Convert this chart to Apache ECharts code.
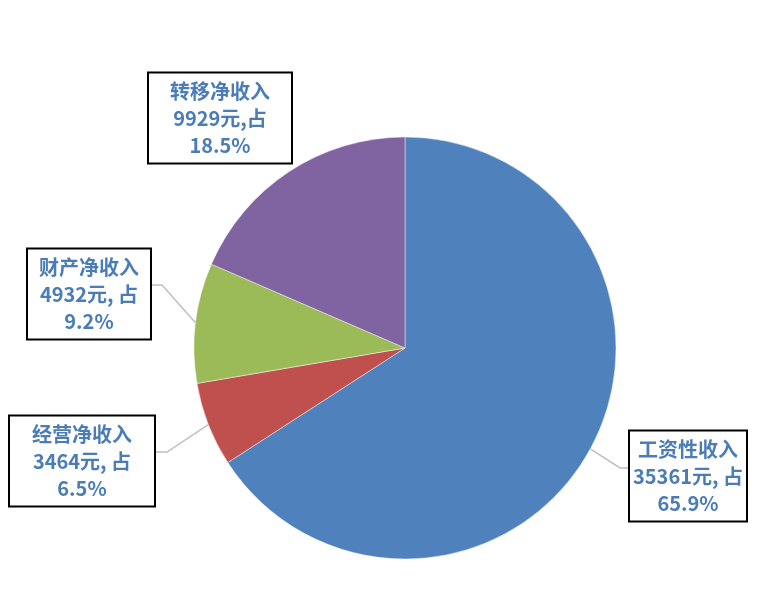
<!DOCTYPE html>
<html>
<head>
<meta charset="utf-8">
<script src="https://cdn.jsdelivr.net/npm/echarts@6/dist/echarts.min.js"></script>
<style>
  html, body { margin: 0; padding: 0; background: #fff; }
  #main { width: 768px; height: 614px; }
</style>
</head>
<body>
<div id="main"></div>
<script>
// 数据
var categories = ['工资性收入', '经营净收入', '财产净收入', '转移净收入'];
var incomeValues = [35361, 3464, 4932, 9929];
var unitTexts = ['元, 占', '元, 占', '元, 占', '元,占'];
var sliceColors = ['#4f81bd', '#c0504d', '#9bbb59', '#8064a2'];

// 标签框位置 (中心点、宽度、引导线拐点)
var labelBoxes = [
  { cx: 688, cy: 476, w: 116, line: [[620, 468], [628, 468]] },
  { cx: 82, cy: 461, w: 144, line: [[167, 452], [156, 452]] },
  { cx: 89, cy: 294, w: 122, line: [[162, 285], [152, 285]] },
  { cx: 220, cy: 118, w: 142, line: null }
];

var total = incomeValues.reduce(function (a, b) { return a + b; }, 0);

var myChart = echarts.init(document.getElementById('main'));

var pieData = categories.map(function (name, i) {
  return {
    name: name,
    value: incomeValues[i],
    itemStyle: { color: sliceColors[i] },
    label: { width: labelBoxes[i].w },
    labelLine: { show: labelBoxes[i].line !== null }
  };
});

option = {
  backgroundColor: '#fff',
  animation: false,
  series: [{
    type: 'pie',
    center: [405, 348],
    radius: 211,
    startAngle: 90,
    clockwise: true,
    avoidLabelOverlap: false,
    itemStyle: {
      borderColor: 'rgba(255,255,255,0.45)',
      borderWidth: 1
    },
    label: {
      show: true,
      position: 'outside',
      formatter: function (p) {
        var pct = (p.value / total * 100).toFixed(1);
        return p.name + '\n' + p.value + unitTexts[p.dataIndex] + '\n' + pct + '%';
      },
      color: '#4a7cb8',
      fontFamily: "'Noto Sans CJK SC', sans-serif",
      fontWeight: 'bold',
      fontSize: 20,
      lineHeight: 27,
      align: 'center',
      overflow: 'none',
      backgroundColor: '#fff',
      borderColor: '#000',
      borderWidth: 2,
      padding: [4, 0, 4, 0]
    },
    labelLine: {
      show: true,
      length: 10,
      length2: 10,
      lineStyle: { color: '#bfbfbf', width: 1.5 }
    },
    labelLayout: function (params) {
      var box = labelBoxes[params.dataIndex];
      var res = { x: box.cx, y: box.cy, align: 'center', verticalAlign: 'middle' };
      if (box.line && params.labelLinePoints) {
        res.labelLinePoints = [params.labelLinePoints[0], box.line[0], box.line[1]];
      }
      return res;
    },
    data: pieData
  }]
};

myChart.setOption(option);
</script>
</body>
</html>
